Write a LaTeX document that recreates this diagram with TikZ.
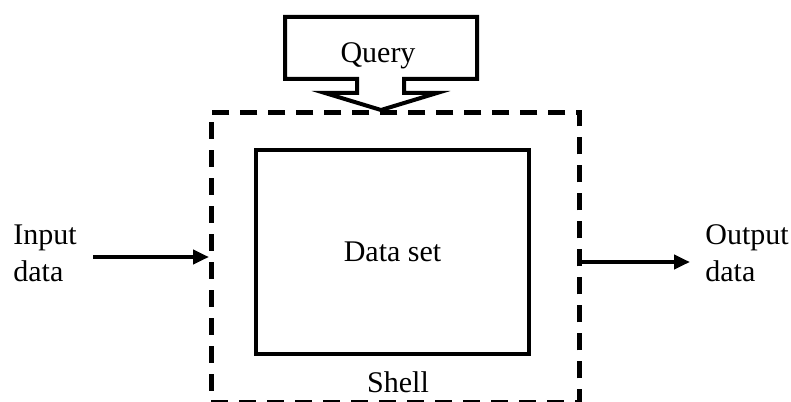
\documentclass[tikz,border=0pt]{standalone}
\usepackage{fontspec}
\setmainfont{Liberation Serif}
\usetikzlibrary{arrows.meta}
\begin{document}
\begin{tikzpicture}[x=0.5pt,y=-0.5pt,
  lbl/.style={inner sep=0pt, font=\fontsize{15}{18.5}\selectfont},
  outline/.style={draw, line width=2pt, line join=miter},
  flow/.style={line width=2pt, -{Triangle[length=8pt,width=7pt]}},
  shellbox/.style={draw, line width=2.4pt, dash pattern=on 8.5pt off 5.5pt},
]
\useasboundingbox (0,0) rectangle (791,401);

% query callout: box with a downward arrow
\draw[outline, fill=white]
  (285,17) -- (477,17) -- (477,79) -- (404,79) -- (404,93) -- (437,93)
  -- (381,110) -- (325,93) -- (357,93) -- (357,79) -- (285,79) -- cycle;
\node[lbl, anchor=base] (query) at (378,63) {Query};

% shell around the data set
\node[shellbox, anchor=north west, minimum width=184pt, minimum height=145pt,
      inner sep=0pt] (shell) at (209,110) {};
\node[lbl, anchor=base] (shelllbl) at (398,392) {Shell};

% data set
\node[outline, lbl, minimum width=136.5pt, minimum height=102pt] (data)
  at (392.5,252) {Data set};

% input and output
\node[lbl, anchor=base west] (input) at (13,281)
  {\begin{tabular}[b]{@{}l@{}}Input\\data\end{tabular}};
\node[lbl, anchor=base west] (output) at (705,281)
  {\begin{tabular}[b]{@{}l@{}}Output\\data\end{tabular}};

\coordinate (inStart) at (93,257);
\coordinate (outEnd) at (690,262);
\draw[flow] (inStart) -- (inStart -| shell.west);
\draw[flow] (outEnd -| shell.east) -- (outEnd);
\end{tikzpicture}
\end{document}
